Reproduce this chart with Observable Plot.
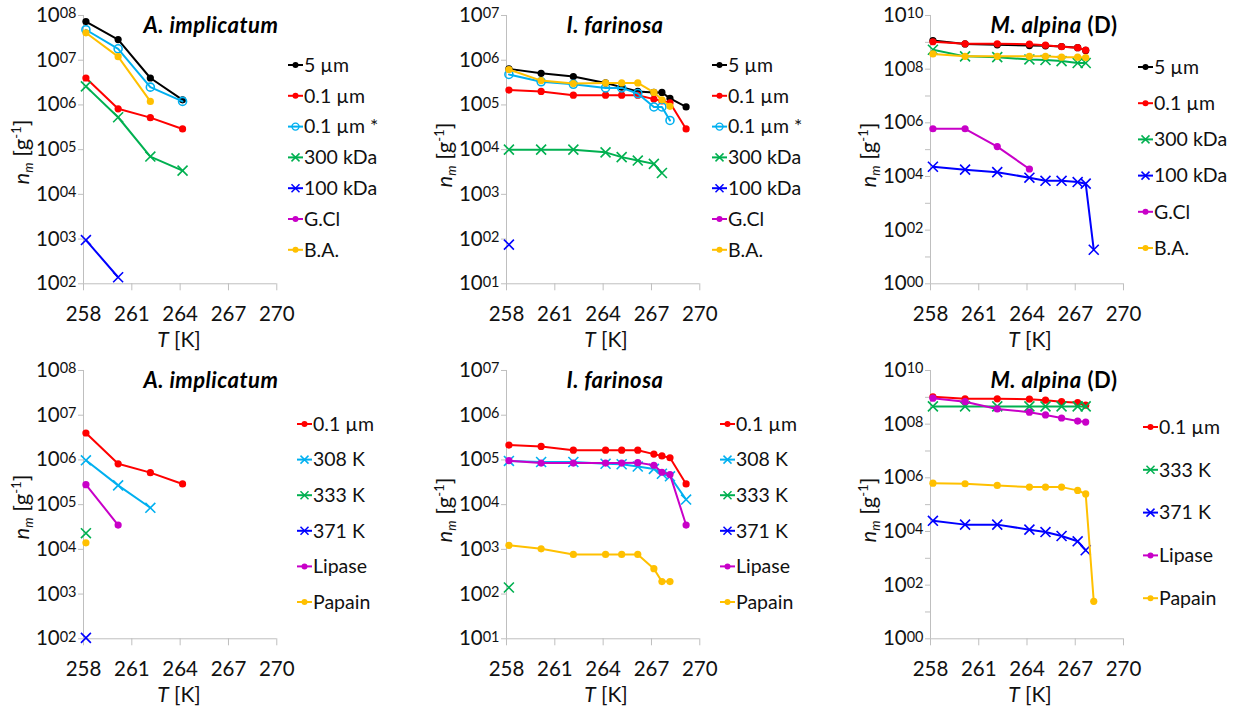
<!DOCTYPE html>
<html><head><meta charset="utf-8">
<script src="https://cdn.jsdelivr.net/npm/d3@7"></script>
<script src="https://cdn.jsdelivr.net/npm/@observablehq/plot@0.6"></script>
<style>
body{margin:0;background:#fff;}
#root{position:relative;width:1242px;height:711px;overflow:hidden;background:#fff;font-family:Lato,sans-serif;}
.panel{position:absolute;}
#overlay{position:absolute;left:0;top:0;pointer-events:none;}
</style></head><body><div id="root"></div>
<script>
// ---------- temperatures [K] ----------
const T_A = [258.15, 260.15, 262.15, 264.15];
const T_I = [258.15, 260.15, 262.15, 264.15, 265.15, 266.15, 267.15, 267.65, 268.15, 269.15];
const T_M = [258.15, 260.15, 262.15, 264.15, 265.15, 266.15, 267.15, 267.65, 268.15];
const xTicks = [258, 261, 264, 267, 270];

// ---------- A. implicatum ----------
const a5um    = [7.3e7, 2.9e7, 4.0e6, 1.3e6];
const a01um   = [4.0e6, 8.2e5, 5.2e5, 2.9e5];
const a01umS  = [4.8e7, 1.8e7, 2.5e6, 1.2e6];
const a300kDa = [2.6e6, 5.3e5, 7.0e4, 3.4e4];
const a100kDa = [9.5e2, 1.4e2, null, null];
const aBA     = [4.1e7, 1.2e7, 1.2e6, null];
const a308K   = [9.8e5, 2.7e5, 8.5e4, null];
const a333K   = [2.3e4, null, null, null];
const a371K   = [1.05e2, null, null, null];
const aLipase = [2.8e5, 3.5e4, null, null];
const aPapain = [1.4e4, null, null, null];

// ---------- I. farinosa ----------
const i5um    = [6.4e5, 5.1e5, 4.3e5, 3.1e5, 2.5e5, 2.0e5, 1.9e5, 1.9e5, 1.4e5, 9.0e4];
const i01um   = [2.15e5, 2.0e5, 1.65e5, 1.65e5, 1.65e5, 1.65e5, 1.35e5, 1.23e5, 1.12e5, 2.9e4];
const i01umS  = [4.8e5, 3.3e5, 2.9e5, 2.4e5, 2.4e5, 1.8e5, 9.0e4, 9.0e4, 4.5e4, null];
const i300kDa = [1.0e4, 1.0e4, 1.0e4, 8.7e3, 6.8e3, 5.7e3, 4.8e3, 3.0e3, null, null];
const i100kDa = [75, null, null, null, null, null, null, null, null, null];
const iBA     = [6.2e5, 3.5e5, 3.0e5, 3.1e5, 3.1e5, 3.1e5, 1.9e5, 1.3e5, 9.3e4, null];
const i308K   = [9.5e4, 9.0e4, 9.0e4, 8.2e4, 8.0e4, 7.1e4, 6.3e4, 4.9e4, 4.3e4, 1.3e4];
const i333K   = [1.4e2, null, null, null, null, null, null, null, null, null];
const iLipase = [9.6e4, 8.5e4, 8.5e4, 8.5e4, 8.5e4, 8.7e4, 7.6e4, 5.3e4, 4.7e4, 3.5e3];
const iPapain = [1.23e3, 1.03e3, 7.7e2, 7.7e2, 7.7e2, 7.7e2, 3.7e2, 1.9e2, 1.9e2, null];

// ---------- M. alpina (D) ----------
const m5um    = [1.17e9, 8.7e8, 8.1e8, 7.6e8, 7.4e8, 7.0e8, 6.3e8, 5.0e8, null];
const m01um   = [1.05e9, 8.8e8, 8.8e8, 8.5e8, 7.8e8, 6.9e8, 6.3e8, 5.1e8, null];
const m300kDa = [5.3e8, 3.0e8, 2.8e8, 2.3e8, 2.2e8, 2.0e8, 1.7e8, 1.7e8, null];
const m100kDa = [2.3e4, 1.8e4, 1.45e4, 9.0e3, 6.9e3, 6.9e3, 6.2e3, 5.4e3, 18.6];
const mGCl    = [6.0e5, 6.0e5, 1.3e5, 1.9e4, null, null, null, null, null];
const mBA     = [3.7e8, 3.0e8, 3.0e8, 3.0e8, 3.0e8, 2.8e8, 2.8e8, 2.7e8, null];
const m333K   = [4.6e8, 4.6e8, 4.6e8, 4.6e8, 4.6e8, 4.6e8, 4.6e8, 4.6e8, null];
const m371K   = [2.5e4, 1.8e4, 1.8e4, 1.17e4, 9.5e3, 6.8e3, 4.3e3, 2.0e3, null];
const mLipase = [9.3e8, 6.9e8, 3.7e8, 2.8e8, 2.2e8, 1.7e8, 1.3e8, 1.2e8, null];
const mPapain = [6.3e5, 6.0e5, 5.2e5, 4.5e5, 4.5e5, 4.5e5, 3.4e5, 2.5e5, 25];

// ---------- series styles ----------
const seriesStyle = {
  "5 µm":     {color: "#000000", marker: "dot"},
  "0.1 µm":   {color: "#ff0000", marker: "dot"},
  "0.1 µm *": {color: "#00b0f0", marker: "ring"},
  "300 kDa":  {color: "#00b050", marker: "cross"},
  "100 kDa":  {color: "#0000ff", marker: "cross"},
  "G.Cl":     {color: "#c800c8", marker: "dot"},
  "B.A.":     {color: "#ffc000", marker: "dot"},
  "308 K":    {color: "#00b0f0", marker: "cross"},
  "333 K":    {color: "#00b050", marker: "cross"},
  "371 K":    {color: "#0000ff", marker: "cross"},
  "Lipase":   {color: "#c800c8", marker: "dot"},
  "Papain":   {color: "#ffc000", marker: "dot"}
};

const panels = [
  {title: "A. implicatum", suffix: "", T: T_A, yDomain: [1e2, 1e8], labelStep: 1,
   series: [["5 µm", a5um], ["0.1 µm", a01um], ["0.1 µm *", a01umS], ["300 kDa", a300kDa], ["100 kDa", a100kDa], ["B.A.", aBA]],
   legend: ["5 µm", "0.1 µm", "0.1 µm *", "300 kDa", "100 kDa", "G.Cl", "B.A."]},
  {title: "I. farinosa", suffix: "", T: T_I, yDomain: [1e1, 1e7], labelStep: 1,
   series: [["5 µm", i5um], ["0.1 µm", i01um], ["0.1 µm *", i01umS], ["300 kDa", i300kDa], ["100 kDa", i100kDa], ["B.A.", iBA]],
   legend: ["5 µm", "0.1 µm", "0.1 µm *", "300 kDa", "100 kDa", "G.Cl", "B.A."]},
  {title: "M. alpina", suffix: " (D)", T: T_M, yDomain: [1e0, 1e10], labelStep: 2,
   series: [["5 µm", m5um], ["0.1 µm", m01um], ["300 kDa", m300kDa], ["100 kDa", m100kDa], ["G.Cl", mGCl], ["B.A.", mBA]],
   legend: ["5 µm", "0.1 µm", "300 kDa", "100 kDa", "G.Cl", "B.A."]},
  {title: "A. implicatum", suffix: "", T: T_A, yDomain: [1e2, 1e8], labelStep: 1,
   series: [["0.1 µm", a01um], ["308 K", a308K], ["333 K", a333K], ["371 K", a371K], ["Lipase", aLipase], ["Papain", aPapain]],
   legend: ["0.1 µm", "308 K", "333 K", "371 K", "Lipase", "Papain"]},
  {title: "I. farinosa", suffix: "", T: T_I, yDomain: [1e1, 1e7], labelStep: 1,
   series: [["0.1 µm", i01um], ["308 K", i308K], ["333 K", i333K], ["Lipase", iLipase], ["Papain", iPapain]],
   legend: ["0.1 µm", "308 K", "333 K", "371 K", "Lipase", "Papain"]},
  {title: "M. alpina", suffix: " (D)", T: T_M, yDomain: [1e0, 1e10], labelStep: 2,
   series: [["0.1 µm", m01um], ["333 K", m333K], ["371 K", m371K], ["Lipase", mLipase], ["Papain", mPapain]],
   legend: ["0.1 µm", "333 K", "371 K", "Lipase", "Papain"]}
];

// ---------- layout (pixels) ----------
const layout = [
  {x0: 82.7, x1: 276,   yTop: 15,  yBot: 283.3, titleX: 211,  titleY: 33,  yLabX: 29,  yLabY: 152, xLabX: 179,  xLabY: 347, legX: 288,  legY0: 65,  legDy: 30.8},
  {x0: 506,  x1: 699.3, yTop: 15,  yBot: 283.3, titleX: 615,  titleY: 33,  yLabX: 452, yLabY: 155, xLabX: 606,  xLabY: 347, legX: 712,  legY0: 65,  legDy: 30.8},
  {x0: 930,  x1: 1123,  yTop: 15,  yBot: 283.3, titleX: 1054, titleY: 33,  yLabX: 876, yLabY: 155, xLabX: 1030, xLabY: 347, legX: 1138, legY0: 67,  legDy: 36.2},
  {x0: 82.7, x1: 276,   yTop: 370, yBot: 638.3, titleX: 211,  titleY: 388, yLabX: 29,  yLabY: 507, xLabX: 179,  xLabY: 702, legX: 297,  legY0: 424, legDy: 35.6},
  {x0: 506,  x1: 699.3, yTop: 370, yBot: 638.3, titleX: 615,  titleY: 388, yLabX: 452, yLabY: 510, xLabX: 606,  xLabY: 702, legX: 720,  legY0: 424, legDy: 35.6},
  {x0: 930,  x1: 1123,  yTop: 370, yBot: 638.3, titleX: 1054, titleY: 388, yLabX: 876, yLabY: 510, xLabX: 1030, xLabY: 702, legX: 1143, legY0: 427, legDy: 42.8}
];

const AX = "#bfbfbf";
const FONT = "Lato, 'Open Sans', sans-serif";
const FS = 20.5;
const root = document.getElementById("root");

function markerMarks(d, st) {
  if (st.marker === "dot") return Plot.dot(d, {x: "T", y: "n", r: 3.6, fill: st.color});
  if (st.marker === "ring") return Plot.dot(d, {x: "T", y: "n", r: 4, fill: "none", stroke: st.color, strokeWidth: 1.6});
  return Plot.dot(d, {x: "T", y: "n", symbol: "times", r: 4.6, stroke: st.color, strokeWidth: 1.6});
}

panels.forEach((p, k) => {
  const L = layout[k];
  const mL = 80, mR = 16, mT = 15, mB = 45;
  const rows = [];
  p.series.forEach(([name, vals]) => vals.forEach((v, i) => { if (v != null) rows.push({T: p.T[i], n: v, s: name}); }));
  const e0 = Math.round(Math.log10(p.yDomain[0])), e1 = Math.round(Math.log10(p.yDomain[1]));
  const decades = d3.range(e0, e1 + 1).map(e => Math.pow(10, e));
  const marks = [
    Plot.ruleX([258], {stroke: AX}),
    Plot.ruleY([p.yDomain[0]], {stroke: AX}),
    Plot.axisX({ticks: xTicks, tickSize: 7, tickPadding: 15.5, stroke: AX, color: "#111", label: null, tickFormat: d => String(d)}),
    Plot.axisY({ticks: decades, tickSize: 5, tickPadding: 2, stroke: AX, color: "#111", label: null,
      tickFormat: d => { const e = Math.round(Math.log10(d)); return (e % p.labelStep === 0) ? String(e).padStart(2, "0") : ""; }})
  ];
  p.series.forEach(([name]) => {
    const st = seriesStyle[name];
    const d = rows.filter(r => r.s === name);
    marks.push(Plot.line(d, {x: "T", y: "n", stroke: st.color, strokeWidth: 2}));
    marks.push(markerMarks(d, st));
  });
  const w = (L.x1 - L.x0) + mL + mR, h = (L.yBot - L.yTop) + mT + mB;
  const chart = Plot.plot({
    width: w, height: h, marginLeft: mL, marginRight: mR, marginTop: mT, marginBottom: mB,
    x: {domain: [258, 270], axis: null},
    y: {type: "log", domain: p.yDomain, axis: null},
    style: {fontFamily: FONT, fontSize: FS + "px", background: "transparent", overflow: "visible"},
    marks
  });
  // superscript exponents on the y tick labels
  chart.querySelectorAll('[aria-label="y-axis tick label"] text').forEach(t => {
    const e = t.textContent;
    if (!e) return;
    t.textContent = "";
    const ns = "http://www.w3.org/2000/svg";
    const a = document.createElementNS(ns, "tspan"); a.textContent = "10"; t.appendChild(a);
    const b = document.createElementNS(ns, "tspan"); b.textContent = e;
    b.setAttribute("font-size", "14.5px"); b.setAttribute("dy", "-3.8"); t.appendChild(b);
  });
  const div = document.createElement("div");
  div.className = "panel";
  div.style.left = (L.x0 - mL) + "px";
  div.style.top = (L.yTop - mT) + "px";
  div.style.width = w + "px";
  div.style.height = h + "px";
  div.appendChild(chart);
  root.appendChild(div);
});

// ---------- overlay: titles, axis titles, legends ----------
const ov = d3.select(root).append("svg").attr("id", "overlay").attr("width", 1242).attr("height", 711)
  .style("font-family", FONT).style("font-size", "19.5px");

panels.forEach((p, k) => {
  const L = layout[k];
  // title
  const tt = ov.append("text").attr("x", L.titleX).attr("y", L.titleY).attr("text-anchor", "middle")
    .attr("font-weight", "bold").attr("font-size", "22px").attr("letter-spacing", "0.5px").attr("fill", "#000");
  tt.append("tspan").attr("font-style", "italic").text(p.title);
  if (p.suffix) tt.append("tspan").text(p.suffix);
  // x axis title
  const xt = ov.append("text").attr("x", L.xLabX).attr("y", L.xLabY).attr("text-anchor", "middle")
    .attr("font-size", "21px").attr("fill", "#111");
  xt.append("tspan").attr("font-style", "italic").text("T");
  xt.append("tspan").text(" [K]");
  // y axis title
  const yt = ov.append("text").attr("transform", `translate(${L.yLabX},${L.yLabY}) rotate(-90)`)
    .attr("text-anchor", "middle").attr("font-size", "22px").attr("fill", "#111");
  yt.append("tspan").attr("font-style", "italic").text("n");
  yt.append("tspan").attr("font-style", "italic").attr("font-size", "13px").attr("dy", 4).text("m");
  yt.append("tspan").attr("dy", -4).text(" [g");
  yt.append("tspan").attr("font-size", "13px").attr("dy", -8).text("-1");
  yt.append("tspan").attr("dy", 8).text("]");
  // legend
  p.legend.forEach((name, j) => {
    const st = seriesStyle[name];
    const y = L.legY0 + j * L.legDy;
    const g = ov.append("g");
    g.append("line").attr("x1", L.legX).attr("x2", L.legX + 15).attr("y1", y).attr("y2", y)
      .attr("stroke", st.color).attr("stroke-width", 2);
    const cx = L.legX + 7.5;
    if (st.marker === "dot") g.append("circle").attr("cx", cx).attr("cy", y).attr("r", 3).attr("fill", st.color);
    else if (st.marker === "ring") g.append("circle").attr("cx", cx).attr("cy", y).attr("r", 3.5).attr("fill", "none").attr("stroke", st.color).attr("stroke-width", 1.4);
    else g.append("path").attr("d", `M${cx-4},${y-4}L${cx+4},${y+4}M${cx-4},${y+4}L${cx+4},${y-4}`).attr("stroke", st.color).attr("stroke-width", 1.5);
    g.append("text").attr("x", L.legX + 16).attr("y", y).attr("dy", "0.35em").attr("fill", "#111").text(name);
  });
});
</script></body></html>
